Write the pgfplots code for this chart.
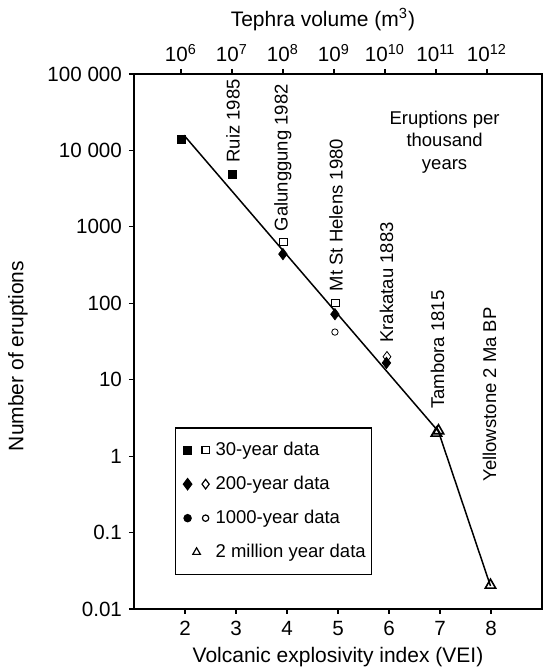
\documentclass[border=0pt]{standalone}
\usepackage{fontspec}
\setmainfont{Liberation Sans}
\usepackage{pgfplots}
\pgfplotsset{compat=1.18}
\begin{document}
\begin{tikzpicture}
\pgfplotsset{
  common/.style={
    scale only axis, width=204pt, height=267.5pt,
    xmin=1, xmax=9,
    tick align=outside, major tick length=2.5pt,
    every tick/.style={black, line width=0.6pt},
    axis line style={line width=0.75pt},
    tick label style={font=\fontsize{10.3}{12}\selectfont},
    label style={font=\fontsize{10.5}{12.6}\selectfont},
    /pgf/number format/assume math mode=true,
  }
}
\begin{axis}[common,
  ymode=log, ymin=0.01, ymax=100000,
  xtick={2,3,4,5,6,7,8},
  xticklabels={2,3,4,5,6,7,8},
  ytick={0.01,0.1,1,10,100,1000,10000,100000},
  yticklabels={0.01,0.1,1,10,100,1000,10 000,100 000},
  yminorticks=false,
  xtick pos=bottom, ytick pos=left,
  xlabel={Volcanic explosivity index (VEI)},
  ylabel={Number of eruptions},
  xlabel style={at={(rel axis cs:0.5,0)}, anchor=center, yshift=-24pt, inner sep=0pt},
  ylabel style={at={(rel axis cs:0,0.473)}, anchor=center, yshift=58pt, inner sep=0pt},
  legend style={at={(0.1005,0.0636)}, anchor=south west, draw=black, line width=0.6pt,
    inner xsep=1pt, inner ysep=5pt, row sep=4.8pt,
    font=\fontsize{9.25}{11}\selectfont, nodes={inner sep=2pt}},
  legend cell align=left,
]
\coordinate (o) at (rel axis cs:0,0);
% regression line
\addplot[black, line width=0.75pt, forget plot] coordinates {(1.98,15800) (6.97,2.1) (7.99,0.02)};
% 30-year data
\addplot[only marks, mark=square*, mark size=2pt, black, forget plot] coordinates {(1.92,14100) (2.92,4900)};
\addplot[only marks, mark=square, mark size=1.8pt, black, mark options={fill=white}, forget plot] coordinates {(3.93,640) (4.95,102)};
% 200-year data
\addplot[only marks, mark=diamond*, mark size=2.8pt, black, forget plot] coordinates {(3.92,440) (4.94,72) (5.95,16.6)};
\addplot[only marks, mark=diamond, mark size=2.6pt, black, mark options={fill=white}, forget plot] coordinates {(5.96,20)};
% 1000-year data
\addplot[only marks, mark=o, mark size=1.6pt, black, forget plot] coordinates {(4.94,42)};
% 2 million year data
\addplot[only marks, mark=triangle, mark size=3pt, black, line width=0.8pt, forget plot] coordinates {(6.93,2.0) (6.97,2.15) (7.99,0.0205)};

\addlegendimage{legend image code/.code={
  \path[draw=none, fill=none] (-5pt,-3pt) rectangle (12pt,3pt);
  \begin{scope}[black, fill=black, mark size=2pt]\pgfuseplotmark{square*}\end{scope}
  \begin{scope}[black, fill=white, xshift=9pt, mark size=1.8pt]\pgfuseplotmark{square}\end{scope}}}
\addlegendentry{30-year data}
\addlegendimage{legend image code/.code={
  \path[draw=none, fill=none] (-5pt,-3pt) rectangle (12pt,3pt);
  \begin{scope}[black, fill=black, mark size=2.8pt]\pgfuseplotmark{diamond*}\end{scope}
  \begin{scope}[black, fill=white, xshift=9pt, mark size=2.4pt]\pgfuseplotmark{diamond}\end{scope}}}
\addlegendentry{200-year data}
\addlegendimage{legend image code/.code={
  \path[draw=none, fill=none] (-5pt,-3pt) rectangle (12pt,3pt);
  \begin{scope}[black, fill=black, mark size=1.8pt]\pgfuseplotmark{*}\end{scope}
  \begin{scope}[black, fill=white, xshift=9pt, mark size=1.6pt]\pgfuseplotmark{o}\end{scope}}}
\addlegendentry{1000-year data}
\addlegendimage{legend image code/.code={
  \path[draw=none, fill=none] (-5pt,-3pt) rectangle (12pt,3pt);
  \begin{scope}[black, fill=white, xshift=4.5pt, mark size=2.2pt]\pgfuseplotmark{triangle}\end{scope}}}
\addlegendentry{2 million year data}

\begin{scope}[every node/.style={rotate=90, anchor=west, inner sep=0pt, font=\fontsize{9.25}{11}\selectfont}]
\node at (axis cs:2.94,6840) {Ruiz 1985};
\node at (axis cs:3.92,863) {Galunggung 1982};
\node at (axis cs:4.96,142) {Mt St Helens 1980};
\node at (axis cs:5.95,30.1) {Krakatau 1883};
\node at (axis cs:6.95,4.12) {Tambora 1815};
\node at (axis cs:7.97,0.461) {Yellowstone 2 Ma BP};
\end{scope}
\node[align=center, inner sep=0pt, font=\fontsize{9.25}{11.2}\selectfont] at (axis cs:7.09,12900) {Eruptions per\\thousand\\years};
\end{axis}

\begin{axis}[common,
  ymin=0, ymax=1,
  axis x line*=top, axis y line=none,
  xtick={1.92,2.92,3.92,4.92,5.92,6.92,7.92},
  xticklabels={10\textsuperscript{6},10\textsuperscript{7},10\textsuperscript{8},10\textsuperscript{9},10\textsuperscript{10},10\textsuperscript{11},10\textsuperscript{12}},
  xlabel={Tephra volume (m\textsuperscript{3})},
  xlabel style={at={(rel axis cs:0.463,1)}, anchor=center, yshift=27pt, inner sep=0pt},
]
\addplot[draw=none] coordinates {(1,0.5)};
\end{axis}

\pgfresetboundingbox
\path ([xshift=-67pt,yshift=-29pt]o) rectangle ([xshift=206pt,yshift=304.5pt]o);
\end{tikzpicture}
\end{document}
